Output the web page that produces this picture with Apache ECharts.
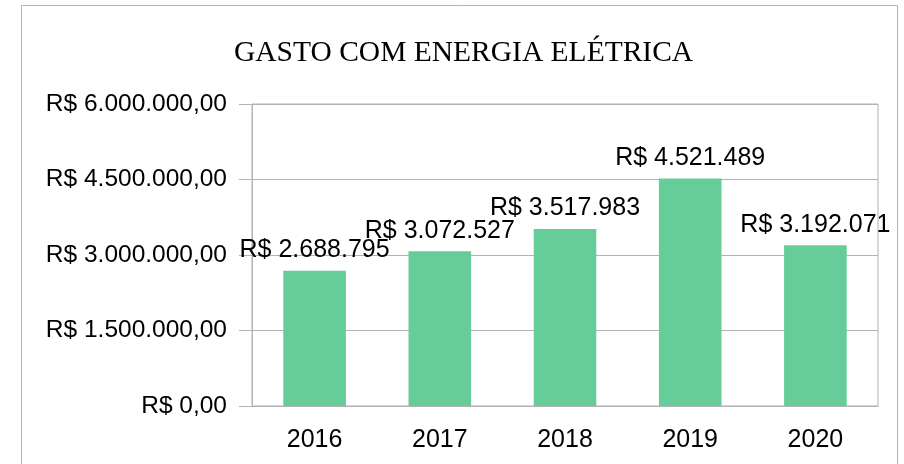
<!DOCTYPE html>
<html>
<head>
<meta charset="utf-8">
<script src="https://cdn.jsdelivr.net/npm/echarts@6/dist/echarts.min.js"></script>
<style>
  html, body { margin: 0; padding: 0; background: #fff; }
  #main { width: 904px; height: 464px; }
</style>
</head>
<body>
<div id="main"></div>
<script>
// dados do gráfico
var anos = ['2016', '2017', '2018', '2019', '2020'];
var gastos = [2688795, 3072527, 3517983, 4521489, 3192071];
var rotulosY = ['R$ 0,00', 'R$ 1.500.000,00', 'R$ 3.000.000,00', 'R$ 4.500.000,00', 'R$ 6.000.000,00'];

function moeda(v) {
  return 'R$ ' + String(v).replace(/\B(?=(\d{3})+(?!\d))/g, '.');
}

var myChart = echarts.init(document.getElementById('main'));

var cinza = '#b3b3b3';
var fonte = 'Liberation Sans';

var option = {
  backgroundColor: '#fff',
  animation: false,
  graphic: [{
    type: 'rect',
    shape: { x: 21.5, y: 5.5, width: 876, height: 470 },
    style: { fill: 'none', stroke: cinza, lineWidth: 1 }
  }],
  title: {
    text: 'GASTO COM ENERGIA ELÉTRICA',
    left: 229,
    top: 33,
    textStyle: {
      fontFamily: 'Liberation Serif',
      fontWeight: 'normal',
      fontSize: 29.5,
      color: '#000'
    }
  },
  grid: {
    left: 252,
    right: 26,
    top: 104,
    bottom: 58,
    show: true,
    borderColor: cinza,
    borderWidth: 1
  },
  xAxis: {
    type: 'category',
    data: anos,
    axisLine: { lineStyle: { color: cinza } },
    axisTick: { length: 11, lineStyle: { color: cinza } },
    axisLabel: { margin: 22, fontFamily: fonte, fontSize: 25, color: '#000' }
  },
  yAxis: {
    type: 'value',
    min: 0,
    max: 6000000,
    interval: 1500000,
    axisLine: { show: true, lineStyle: { color: cinza } },
    axisTick: { show: true, length: 13, lineStyle: { color: cinza } },
    splitLine: { lineStyle: { color: cinza } },
    axisLabel: {
      margin: 25,
      fontFamily: fonte,
      fontSize: 24.5,
      color: '#000',
      formatter: function (v) {
        return rotulosY[Math.round(v / 1500000)];
      }
    }
  },
  series: [{
    type: 'bar',
    data: gastos,
    barWidth: '50%',
    itemStyle: { color: '#66cc99' },
    label: {
      show: true,
      position: 'top',
      distance: 8,
      fontFamily: fonte,
      fontSize: 25,
      color: '#000',
      formatter: function (p) { return moeda(p.value); }
    }
  }]
};

myChart.setOption(option);
</script>
</body>
</html>
